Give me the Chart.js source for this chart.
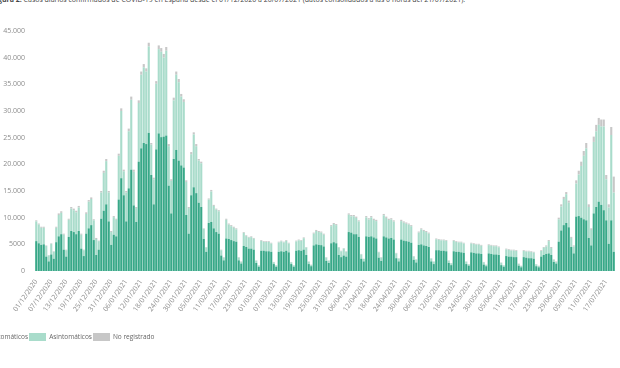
<!DOCTYPE html>
<html lang="es">
<head>
  <meta charset="UTF-8" />
  <title>Casos diarios COVID-19 España</title>
  <script src="https://cdn.jsdelivr.net/npm/chart.js"></script>
  <style>
    * {
      box-sizing: border-box;
      margin: 0;
      padding: 0;
    }

    body {
      width: 620px;
      height: 368px;
      overflow: hidden;
      position: relative;
      background: #ffffff;
      font-family: 'Open Sans', sans-serif;
    }

    .titulo {
      position: absolute;
      left: -8px;
      top: -5px;
      font-size: 7px;
      line-height: 9px;
      color: #444;
      white-space: nowrap;
    }

    .grafico {
      position: absolute;
      left: 0;
      top: 0;
      width: 620px;
      height: 368px;
    }

    .leyenda {
      position: absolute;
      left: -31px;
      top: 332px;
      display: flex;
      align-items: center;
      font-size: 6.5px;
      color: #666;
    }

    .leyenda .item {
      display: flex;
      align-items: center;
      margin-right: 1px;
    }

    .leyenda .caja {
      width: 17px;
      height: 8px;
      margin-right: 3px;
    }
  </style>
</head>
<body>
  <div class="titulo"><b>Figura 2.</b> Casos diarios confirmados de COVID-19 en España desde el 01/12/2020 a 20/07/2021 (datos consolidados a las 0 horas del 21/07/2021).</div>
  <div class="grafico"><canvas id="casos"></canvas></div>
  <div class="leyenda" id="leyenda"></div>

  <script>
    const fechas = [
      '01/12/2020','02/12/2020','03/12/2020','04/12/2020','05/12/2020','06/12/2020','07/12/2020','08/12/2020','09/12/2020','10/12/2020',
      '11/12/2020','12/12/2020','13/12/2020','14/12/2020','15/12/2020','16/12/2020','17/12/2020','18/12/2020','19/12/2020','20/12/2020',
      '21/12/2020','22/12/2020','23/12/2020','24/12/2020','25/12/2020','26/12/2020','27/12/2020','28/12/2020','29/12/2020','30/12/2020','31/12/2020',
      '01/01/2021','02/01/2021','03/01/2021','04/01/2021','05/01/2021','06/01/2021','07/01/2021','08/01/2021','09/01/2021','10/01/2021',
      '11/01/2021','12/01/2021','13/01/2021','14/01/2021','15/01/2021','16/01/2021','17/01/2021','18/01/2021','19/01/2021','20/01/2021',
      '21/01/2021','22/01/2021','23/01/2021','24/01/2021','25/01/2021','26/01/2021','27/01/2021','28/01/2021','29/01/2021','30/01/2021','31/01/2021',
      '01/02/2021','02/02/2021','03/02/2021','04/02/2021','05/02/2021','06/02/2021','07/02/2021','08/02/2021','09/02/2021','10/02/2021',
      '11/02/2021','12/02/2021','13/02/2021','14/02/2021','15/02/2021','16/02/2021','17/02/2021','18/02/2021','19/02/2021','20/02/2021',
      '21/02/2021','22/02/2021','23/02/2021','24/02/2021','25/02/2021','26/02/2021','27/02/2021','28/02/2021',
      '01/03/2021','02/03/2021','03/03/2021','04/03/2021','05/03/2021','06/03/2021','07/03/2021','08/03/2021','09/03/2021','10/03/2021',
      '11/03/2021','12/03/2021','13/03/2021','14/03/2021','15/03/2021','16/03/2021','17/03/2021','18/03/2021','19/03/2021','20/03/2021',
      '21/03/2021','22/03/2021','23/03/2021','24/03/2021','25/03/2021','26/03/2021','27/03/2021','28/03/2021','29/03/2021','30/03/2021','31/03/2021',
      '01/04/2021','02/04/2021','03/04/2021','04/04/2021','05/04/2021','06/04/2021','07/04/2021','08/04/2021','09/04/2021','10/04/2021',
      '11/04/2021','12/04/2021','13/04/2021','14/04/2021','15/04/2021','16/04/2021','17/04/2021','18/04/2021','19/04/2021','20/04/2021',
      '21/04/2021','22/04/2021','23/04/2021','24/04/2021','25/04/2021','26/04/2021','27/04/2021','28/04/2021','29/04/2021','30/04/2021',
      '01/05/2021','02/05/2021','03/05/2021','04/05/2021','05/05/2021','06/05/2021','07/05/2021','08/05/2021','09/05/2021','10/05/2021',
      '11/05/2021','12/05/2021','13/05/2021','14/05/2021','15/05/2021','16/05/2021','17/05/2021','18/05/2021','19/05/2021','20/05/2021',
      '21/05/2021','22/05/2021','23/05/2021','24/05/2021','25/05/2021','26/05/2021','27/05/2021','28/05/2021','29/05/2021','30/05/2021','31/05/2021',
      '01/06/2021','02/06/2021','03/06/2021','04/06/2021','05/06/2021','06/06/2021','07/06/2021','08/06/2021','09/06/2021','10/06/2021',
      '11/06/2021','12/06/2021','13/06/2021','14/06/2021','15/06/2021','16/06/2021','17/06/2021','18/06/2021','19/06/2021','20/06/2021',
      '21/06/2021','22/06/2021','23/06/2021','24/06/2021','25/06/2021','26/06/2021','27/06/2021','28/06/2021','29/06/2021','30/06/2021',
      '01/07/2021','02/07/2021','03/07/2021','04/07/2021','05/07/2021','06/07/2021','07/07/2021','08/07/2021','09/07/2021','10/07/2021',
      '11/07/2021','12/07/2021','13/07/2021','14/07/2021','15/07/2021','16/07/2021','17/07/2021','18/07/2021','19/07/2021','20/07/2021'
    ];

    const etiquetasEje = [
      '01/12/2020','07/12/2020','13/12/2020','19/12/2020','25/12/2020','31/12/2020',
      '06/01/2021','12/01/2021','18/01/2021','24/01/2021','30/01/2021','05/02/2021',
      '11/02/2021','17/02/2021','23/02/2021','01/03/2021','07/03/2021','13/03/2021',
      '19/03/2021','25/03/2021','31/03/2021','06/04/2021','12/04/2021','18/04/2021',
      '24/04/2021','30/04/2021','06/05/2021','12/05/2021','18/05/2021','24/05/2021',
      '30/05/2021','05/06/2021','11/06/2021','17/06/2021','23/06/2021','29/06/2021',
      '05/07/2021','11/07/2021','17/07/2021'
    ];

    // una linea por semana (la primera empieza el martes 01/12)
    const sintomaticos = [
      5600, 5200, 4900, 5000, 2700, 1800,
      3100, 2300, 5400, 6500, 6900, 4000, 2700,
      6400, 7500, 7300, 6900, 7500, 4200, 2800,
      7000, 8000, 8600, 5800, 3000, 4000, 9800,
      11300, 12500, 9300, 4900, 6800, 6500, 13400,
      17400, 14200, 9300, 15500, 19000, 12300, 9200,
      20500, 23000, 24000, 23800, 25900, 18000, 12500,
      22800, 25800, 25100, 25200, 25400, 16000, 10800,
      21000, 22700, 20700, 19800, 19400, 10500, 7000,
      14200, 15700, 14600, 12800, 12000, 6000, 3600,
      9000, 9200, 8000, 7300, 7000, 2900, 2000,
      6100, 6000, 5800, 5600, 5500, 2000, 1400,
      4700, 4500, 4200, 4200, 4000, 1500, 800,
      3800, 3800, 3700, 3700, 3600, 1300, 800,
      3600, 3700, 3600, 3800, 3500, 1300, 800,
      3800, 3900, 3800, 4000, 3000, 1300, 900,
      4800, 5000, 4900, 4850, 4600, 1900, 1500,
      5200, 5400, 5200, 3000, 2600, 2900, 2700,
      7300, 7200, 6900, 6900, 6400, 2300, 1800,
      6500, 6400, 6500, 6300, 6100, 2500, 1900,
      6500, 6300, 6100, 6200, 5900, 2400, 1800,
      5900, 5700, 5600, 5500, 5300, 2100, 1600,
      4900, 5000, 4800, 4700, 4500, 1800, 1300,
      3900, 3900, 3800, 3800, 3700, 1500, 1100,
      3700, 3600, 3600, 3500, 3400, 1300, 1000,
      3500, 3400, 3300, 3300, 3200, 1200, 900,
      3300, 3200, 3100, 3100, 3000, 1100, 800,
      2800, 2700, 2700, 2600, 2600, 1000, 700,
      2600, 2500, 2400, 2400, 2300, 900, 700,
      2700, 3000, 3200, 3300, 3000, 1700, 1400,
      5500, 7600, 8600, 9000, 8200, 4500, 3300,
      10200, 10300, 10000, 9700, 9500, 6200, 4800,
      10800, 12000, 13000, 12400, 11400, 9500, 5100,
      9500, 3600
    ];

    const asintomaticos = [
      3700, 3500, 3200, 3100, 2000, 1100,
      2000, 1300, 2700, 4000, 4000, 2800, 1200,
      3200, 4200, 4100, 4100, 4400, 2600, 1100,
      3700, 5000, 4900, 3700, 3000, 1600, 4900,
      7100, 8100, 5400, 2400, 3300, 3100, 8200,
      12600, 4500, 5400, 10700, 13100, 6300, 2600,
      11000, 13800, 14200, 13600, 16200, 5700, 4700,
      12300, 15800, 16000, 14800, 15900, 7400, 6100,
      11000, 14100, 14700, 12900, 12300, 6200, 4800,
      7700, 9900, 8800, 7900, 8200, 1900, 800,
      4400, 5700, 4200, 4200, 4200, 1000, 500,
      3500, 2700, 2600, 2500, 2300, 500, 300,
      2450, 2050, 2050, 2150, 2050, 450, 250,
      1850, 1650, 1750, 1750, 1550, 350, 250,
      1750, 1850, 1750, 1850, 1650, 350, 250,
      1750, 1850, 1850, 2150, 1400, 450, 250,
      2200, 2500, 2400, 2350, 2200, 600, 450,
      3200, 3400, 3400, 1400, 1100, 1300, 900,
      3250, 3050, 3350, 3050, 2900, 800, 450,
      3550, 3250, 3550, 3250, 3250, 1000, 600,
      3950, 3650, 3450, 3450, 3350, 900, 550,
      3450, 3350, 3250, 3200, 3100, 600, 550,
      2300, 2800, 2700, 2600, 2500, 550, 450,
      2050, 1950, 1950, 1950, 1950, 450, 350,
      1950, 1850, 1750, 1850, 1750, 450, 250,
      1650, 1650, 1650, 1650, 1550, 450, 250,
      1550, 1550, 1550, 1550, 1450, 450, 250,
      1250, 1250, 1150, 1250, 1150, 350, 250,
      1150, 1150, 1250, 1150, 1150, 350, 250,
      1050, 1350, 1400, 2300, 1300, 400, 300,
      4200, 4500, 4900, 5400, 4600, 1700, 1300,
      6200, 7800, 9700, 11900, 13500, 5800, 2900,
      13400, 14200, 14400, 14700, 15700, 7700, 6800,
      16000, 11100
    ];

    const noRegistrado = [
      200, 200, 200, 200, 100, 100,
      100, 100, 200, 300, 300, 200, 100,
      200, 300, 300, 300, 300, 200, 100,
      300, 300, 300, 200, 200, 100, 300,
      400, 400, 300, 200, 200, 200, 400,
      500, 300, 300, 500, 600, 400, 200,
      500, 600, 600, 600, 700, 300, 300,
      500, 700, 700, 700, 700, 400, 300,
      500, 600, 600, 500, 500, 300, 200,
      400, 400, 400, 300, 300, 100, 100,
      200, 300, 200, 200, 200, 100, 100,
      200, 200, 200, 200, 200, 100, 100,
      150, 150, 150, 150, 150, 50, 50,
      150, 150, 150, 150, 150, 50, 50,
      150, 150, 150, 150, 150, 50, 50,
      150, 150, 150, 150, 100, 50, 50,
      200, 200, 200, 200, 200, 100, 50,
      200, 200, 200, 100, 100, 100, 100,
      250, 250, 250, 250, 200, 100, 50,
      250, 250, 250, 250, 250, 100, 100,
      250, 250, 250, 250, 250, 100, 50,
      250, 250, 250, 200, 200, 100, 50,
      200, 200, 200, 200, 200, 50, 50,
      150, 150, 150, 150, 150, 50, 50,
      150, 150, 150, 150, 150, 50, 50,
      150, 150, 150, 150, 150, 50, 50,
      150, 150, 150, 150, 150, 50, 50,
      150, 150, 150, 150, 150, 50, 50,
      150, 150, 150, 150, 150, 50, 50,
      150, 150, 200, 200, 200, 100, 100,
      300, 400, 400, 400, 400, 200, 200,
      600, 700, 800, 900, 1000, 500, 300,
      1000, 1200, 1300, 1300, 1300, 800, 600,
      1500, 3000
    ];

    const colores = {
      sintomaticos: '#38a888',
      asintomaticos: '#a9dccb',
      noRegistrado: '#c7c7c7'
    };

    const fuente = { family: "'Open Sans', sans-serif", size: 7 };

    // 5000 sin punto, 10.000 en adelante con punto de miles
    function formatoEs(v) {
      if (v < 10000) return String(v);
      return String(v).replace(/\B(?=(\d{3})+(?!\d))/g, '.');
    }

    const ctx = document.getElementById('casos').getContext('2d');
    const grafico = new Chart(ctx, {
      type: 'bar',
      data: {
        labels: fechas,
        datasets: [
          { label: 'Sintomáticos', data: sintomaticos, backgroundColor: colores.sintomaticos },
          { label: 'Asintomáticos', data: asintomaticos, backgroundColor: colores.asintomaticos },
          { label: 'No registrado', data: noRegistrado, backgroundColor: colores.noRegistrado }
        ]
      },
      options: {
        responsive: true,
        maintainAspectRatio: false,
        animation: false,
        layout: { padding: { top: 31, right: 5, bottom: 0, left: 0 } },
        datasets: {
          bar: { barPercentage: 0.85, categoryPercentage: 1.0, borderWidth: 0 }
        },
        plugins: {
          legend: { display: false },
          tooltip: { enabled: false }
        },
        scales: {
          x: {
            stacked: true,
            grid: { display: false, drawTicks: false },
            border: { display: false },
            ticks: {
              autoSkip: false,
              minRotation: 55,
              maxRotation: 55,
              padding: 7,
              color: '#8c8c8c',
              font: fuente,
              callback: (v, i) => etiquetasEje.includes(fechas[i]) ? fechas[i] : ''
            },
            afterFit: (s) => { s.height = 97; s.paddingLeft = 0; s.paddingRight = 0; }
          },
          y: {
            stacked: true,
            min: 0,
            max: 45000,
            grid: { display: false, drawTicks: false },
            border: { display: false },
            ticks: {
              stepSize: 5000,
              padding: 10,
              color: '#8c8c8c',
              font: fuente,
              callback: (v) => formatoEs(v)
            },
            afterFit: (s) => { s.width = 35; s.paddingTop = 0; s.paddingBottom = 0; }
          }
        }
      }
    });

    // leyenda en html, recortada por la izquierda como en el original
    const leyenda = document.getElementById('leyenda');
    grafico.data.datasets.forEach(ds => {
      const item = document.createElement('div');
      item.className = 'item';
      const caja = document.createElement('span');
      caja.className = 'caja';
      caja.style.background = ds.backgroundColor;
      const texto = document.createElement('span');
      texto.textContent = ds.label;
      item.appendChild(caja);
      item.appendChild(texto);
      leyenda.appendChild(item);
    });
  </script>
</body>
</html>
